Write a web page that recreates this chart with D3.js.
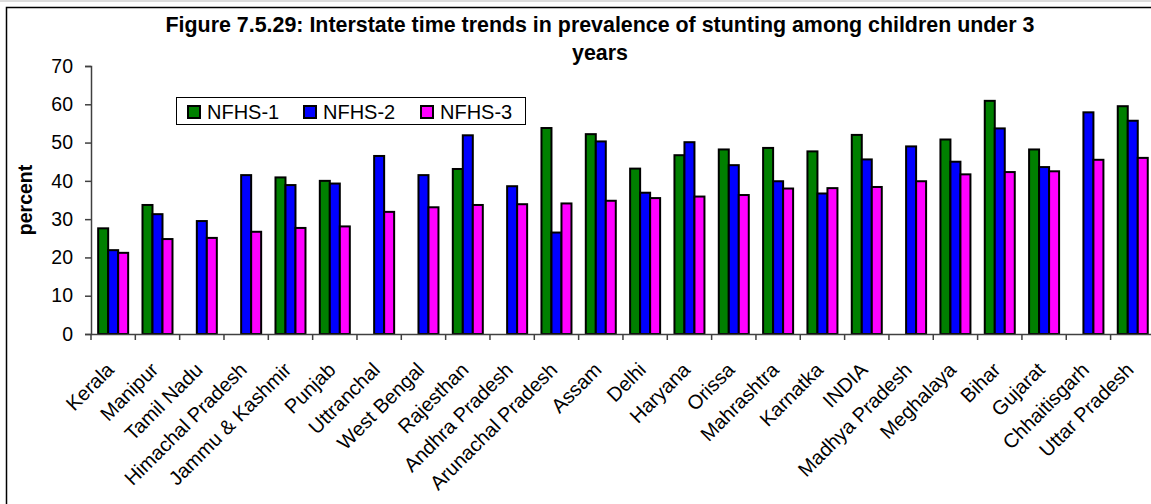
<!DOCTYPE html>
<html>
<head>
<meta charset="utf-8">
<script src="https://cdn.jsdelivr.net/npm/d3@7"></script>
<style>
  html, body { margin: 0; padding: 0; background: #fff; }
  svg { display: block; font-family: "Liberation Sans", Arial, sans-serif; }
</style>
</head>
<body>
<svg id="chart" width="1151" height="504"></svg>
<script>
const categories = ["Kerala","Manipur","Tamil Nadu","Himachal Pradesh","Jammu & Kashmir","Punjab","Uttranchal","West Bengal","Rajesthan","Andhra Pradesh","Arunachal Pradesh","Assam","Delhi","Haryana","Orissa","Mahrashtra","Karnatka","INDIA","Madhya Pradesh","Meghalaya","Bihar","Gujarat","Chhaitisgarh","Uttar Pradesh"];
const seriesNames = ["NFHS-1","NFHS-2","NFHS-3"];
const nfhs1 = [27.6,33.7,null,null,40.9,40.0,null,null,43.1,null,53.8,52.2,43.2,46.7,48.2,48.6,47.7,52.0,null,50.8,60.9,48.2,null,59.5];
const nfhs2 = [21.9,31.3,29.5,41.5,38.9,39.3,46.5,41.5,51.9,38.6,26.5,50.3,36.9,50.1,44.1,39.9,36.7,45.6,49.0,45.0,53.7,43.6,57.9,55.7];
const nfhs3 = [21.2,24.8,25.1,26.7,27.7,28.1,31.9,33.1,33.7,33.9,34.1,34.8,35.5,35.9,36.3,38.0,38.1,38.4,39.9,41.7,42.3,42.5,45.5,46.0];
const yTicks = [0,10,20,30,40,50,60,70];
const colors = ["#008000","#0000FF","#FF00FF"];
const titleLines = ["Figure 7.5.29: Interstate time trends in prevalence of stunting among children under 3","years"];
const yTitle = "percent";

const seriesValues = [nfhs1, nfhs2, nfhs3];
const svg = d3.select("#chart");

svg.append("rect").attr("x",0).attr("y",0).attr("width",1151).attr("height",2).attr("fill","#dcdcdc");
svg.append("rect").attr("x",6.5).attr("y",7.5).attr("width",1200).attr("height",600)
  .attr("fill","none").attr("stroke","#000").attr("stroke-width",1.5);

const plotLeft = 91, plotTop = 66, plotBottom = 334;
const band = 44.33;
const x = d3.scaleBand().domain(categories).range([plotLeft, plotLeft + band*categories.length]).padding(0);
const y = d3.scaleLinear().domain([0,70]).range([plotBottom, plotTop]);
const groupW = 30;
const x1 = d3.scaleBand().domain(seriesNames)
  .range([(x.bandwidth()-groupW)/2, (x.bandwidth()+groupW)/2]).padding(0);

svg.append("g").selectAll("text").data(titleLines).join("text")
  .attr("x", 600).attr("y", (d,i) => 32 + i*28)
  .attr("text-anchor","middle").attr("font-weight","bold").attr("font-size","21.4px")
  .text(d => d);

svg.append("text").attr("transform","translate(32,200) rotate(-90)")
  .attr("text-anchor","middle").attr("font-weight","bold").attr("font-size","19.5px")
  .text(yTitle);

const groups = svg.append("g").selectAll("g").data(categories).join("g")
  .attr("transform", d => `translate(${x(d)},0)`);
groups.selectAll("rect")
  .data((c,i) => seriesNames.map((s,k) => ({s, k, v: seriesValues[k][i]})).filter(d => d.v != null))
  .join("rect")
  .attr("x", d => x1(d.s))
  .attr("width", x1.bandwidth())
  .attr("y", d => y(d.v))
  .attr("height", d => y(0) - y(d.v))
  .attr("fill", d => colors[d.k])
  .attr("stroke","#000").attr("stroke-width",2);

const yAxis = d3.axisLeft(y).tickValues(yTicks).tickSize(6).tickPadding(12);
const gy = svg.append("g").attr("transform",`translate(${plotLeft},0)`).call(yAxis);
gy.select(".domain").attr("stroke","#404040").attr("stroke-width",1.5);
gy.selectAll(".tick line").attr("stroke","#404040").attr("stroke-width",1.5);
gy.selectAll(".tick text").attr("font-size","19.5px").attr("font-family","Liberation Sans, Arial, sans-serif").attr("fill","#000");

const xAxis = d3.axisBottom(x).tickSize(0).tickFormat("");
const gx = svg.append("g").attr("transform",`translate(0,${plotBottom})`).call(xAxis);
gx.select(".domain").attr("stroke","#404040").attr("stroke-width",1.5);
gx.selectAll(".tick").remove();
const bounds = d3.range(categories.length + 1).map(i => x.range()[0] + i*x.step());
gx.selectAll("line.b").data(bounds).join("line").attr("class","b")
  .attr("x1", d => d).attr("x2", d => d).attr("y1",0).attr("y2",6)
  .attr("stroke","#404040").attr("stroke-width",1.5);
svg.append("g").selectAll("text").data(categories).join("text")
  .attr("transform", d => `translate(${x(d) + x.bandwidth()/2 - 8},361) rotate(-45)`)
  .attr("text-anchor","end").attr("dy","0.71em").attr("font-size","20px")
  .text(d => d);

const lg = svg.append("g");
lg.append("rect").attr("x",176.5).attr("y",97.5).attr("width",349).attr("height",27)
  .attr("fill","#fff").attr("stroke","#000").attr("stroke-width",1);
const legX = [188, 304, 421];
const items = lg.selectAll("g").data(seriesNames).join("g")
  .attr("transform",(d,i) => `translate(${legX[i]},0)`);
items.append("rect").attr("x",0).attr("y",106).attr("width",12).attr("height",12)
  .attr("fill",(d,i) => colors[i]).attr("stroke","#000").attr("stroke-width",2);
items.append("text").attr("x",19).attr("y",119).attr("font-size","20px").text(d => d);
</script>
</body>
</html>
